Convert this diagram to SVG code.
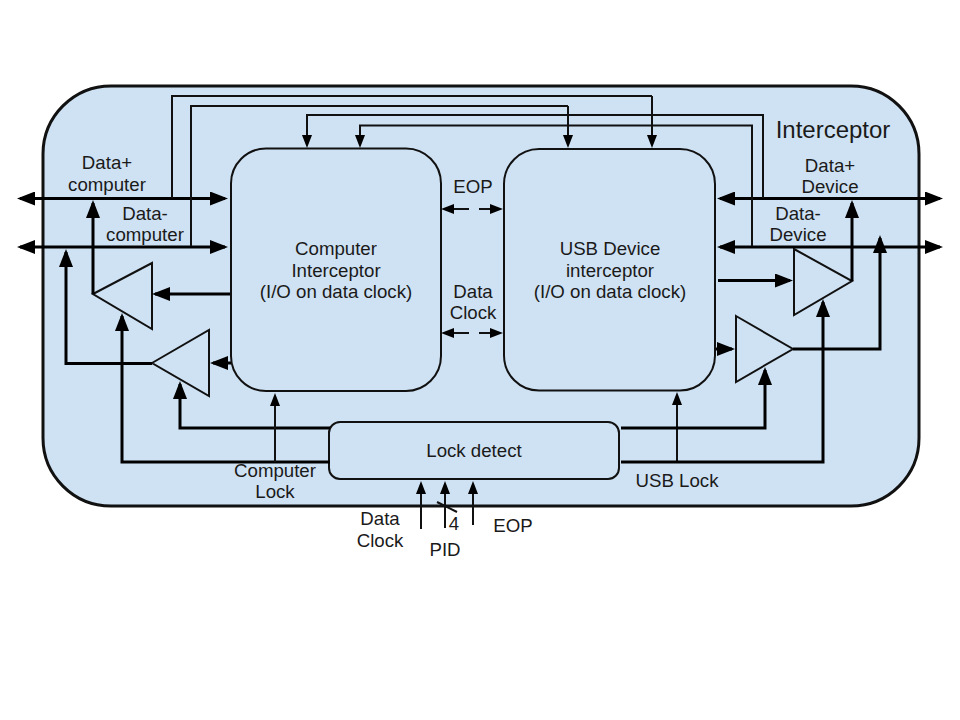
<svg xmlns="http://www.w3.org/2000/svg" width="960" height="720" viewBox="0 0 960 720">
<style>
text{font-family:"Liberation Sans",Arial,sans-serif;font-size:18.67px;fill:#1a1a1a;text-anchor:middle}
.box{fill:#cfe2f3;stroke:#111;stroke-width:2}
.tri{fill:#cfe2f3;stroke:#111;stroke-width:2;stroke-linejoin:miter}
.w{fill:none;stroke:#111;stroke-width:2;stroke-linejoin:miter}
.b{fill:none;stroke:#000;stroke-width:3;stroke-linejoin:miter}
.ah{marker-end:url(#big)}
.as{marker-end:url(#small)}
.bh{marker-start:url(#bigs);marker-end:url(#big)}
</style>
<defs>
<marker id="big" markerUnits="userSpaceOnUse" markerWidth="19" markerHeight="14" refX="15" refY="7" orient="auto"><path d="M0 0L18 7L0 14Z" fill="#000"/></marker>
<marker id="bigs" markerUnits="userSpaceOnUse" markerWidth="19" markerHeight="14" refX="3" refY="7" orient="auto"><path d="M18 0L0 7L18 14Z" fill="#000"/></marker>
<marker id="small" markerUnits="userSpaceOnUse" markerWidth="13" markerHeight="10" refX="10" refY="5" orient="auto"><path d="M0 0L13 5L0 10Z" fill="#000"/></marker>
</defs>
<g id="interceptor"><rect class="box" style="stroke-width:3" x="43" y="86" width="876" height="420" rx="68" ry="68"/><text x="833" y="138" style="font-size:24px">Interceptor</text></g>
<g id="computer-interceptor"><rect class="box" x="231" y="148.500" width="210" height="242.500" rx="35" ry="35"/><text x="336" y="255">Computer</text><text x="336" y="277">Interceptor</text><text x="336" y="298">(I/O on data clock)</text></g>
<g id="usb-interceptor"><rect class="box" x="504" y="149" width="211" height="241.500" rx="35" ry="35"/><text x="610" y="255">USB Device</text><text x="610" y="277">interceptor</text><text x="610" y="298">(I/O on data clock)</text></g>
<g id="lock-detect"><rect class="box" x="329" y="422" width="290" height="57" rx="11" ry="11"/><text x="474" y="457">Lock detect</text></g>
<g id="buffer-computer-plus"><polygon class="tri" points="93,294 152,263 152,329"/></g>
<g id="buffer-computer-minus"><polygon class="tri" points="152,363 209,330 209,396"/></g>
<g id="buffer-device-plus"><polygon class="tri" points="794,249 852,281 794,315"/></g>
<g id="buffer-device-minus"><polygon class="tri" points="736,316 793,349 736,382"/></g>
<g id="connectors">
<path class="b bh" d="M20 198.500H225"/>
<path class="b bh" d="M20 247H225"/>
<path class="b bh" d="M720 198.500H940"/>
<path class="b bh" d="M720 247H940"/>
<path class="w" d="M172 198V96H652"/>
<path class="w as" d="M652 96V145"/>
<path class="w" d="M191 246V106H568"/>
<path class="w as" d="M568 106V145"/>
<path class="w as" d="M763 198V115H307V145"/>
<path class="w as" d="M752 246V125.500H360V145"/>
<path class="b ah" d="M230 294H155"/>
<path class="b ah" d="M93 294V203"/>
<path class="b ah" d="M152 363.500H66V252"/>
<path class="b ah" d="M231 363H213"/>
<path class="b ah" d="M330 428H180V384"/>
<path class="b ah" d="M330 462H122V316"/>
<path class="w as" d="M275 462V396"/>
<path class="w as" d="M677 462V395"/>
<path class="b ah" d="M621 428H765V370"/>
<path class="b ah" d="M621 462H823V302"/>
<path class="b ah" d="M793 349H880V238"/>
<path class="b ah" d="M852 281V203"/>
<path class="b ah" d="M718 280.500H790"/>
<path class="b ah" d="M716 349H732"/>
<path class="w as" d="M469 209H444"/>
<path class="w as" d="M479 209H500"/>
<path class="w as" d="M469 333H444"/>
<path class="w as" d="M479 333H500"/>
<path class="w as" d="M421 529V484"/>
<path class="w as" d="M445 528V484"/>
<path class="w as" d="M473 525V484"/>
<path class="w" d="M437 502L457 512"/>
</g>
<g id="labels">
<text x="107" y="169">Data+</text><text x="107" y="191">computer</text>
<text x="145" y="220">Data-</text><text x="145" y="241">computer</text>
<text x="830" y="172">Data+</text><text x="830" y="193">Device</text>
<text x="798" y="220">Data-</text><text x="798" y="241">Device</text>
<text x="473" y="193">EOP</text>
<text x="473" y="298">Data</text><text x="473" y="319">Clock</text>
<text x="275" y="477">Computer</text><text x="275" y="498">Lock</text>
<text x="677" y="487">USB Lock</text>
<text x="380" y="525">Data</text><text x="380" y="547">Clock</text>
<text x="454" y="530">4</text>
<text x="445" y="556">PID</text>
<text x="513" y="532">EOP</text>
</g>
</svg>
